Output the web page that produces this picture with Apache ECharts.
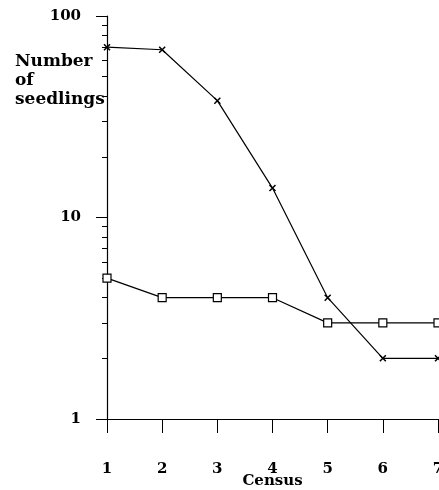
<!DOCTYPE html>
<html>
<head>
<meta charset="utf-8">
<script src="https://cdn.jsdelivr.net/npm/echarts@6/dist/echarts.min.js"></script>
<style>
html,body{margin:0;padding:0;background:#fff;}
#chart{width:439px;height:490px;}
</style>
</head>
<body>
<div id="chart"></div>
<script>
// Data
var census = [1, 2, 3, 4, 5, 6, 7];
var crossSeries = [70, 68, 38, 14, 4, 2, 2];
var squareSeries = [5, 4, 4, 4, 3, 3, 3];
var yMajorTicks = [1, 10, 100];
var yMinorTicks = [2, 3, 4, 5, 6, 7, 8, 9, 20, 30, 40, 50, 60, 70, 80, 90];
var xTickLabels = ['1', '2', '3', '4', '5', '6', '7'];

var FONT = 'DejaVu Serif';
var crossPath = 'path://M0,0L10,10M10,0L0,10';

function pairs(ys) {
  return census.map(function (c, i) { return [c, ys[i]]; });
}

var chart = echarts.init(document.getElementById('chart'), null, {renderer: 'canvas'});
chart.setOption({
  animation: false,
  backgroundColor: '#fff',
  title: {
    text: 'Number\nof\nseedlings',
    left: 15,
    top: 52,
    padding: 0,
    textStyle: {
      fontFamily: FONT, fontWeight: 'bold', fontSize: 17, color: '#000', lineHeight: 19
    }
  },
  grid: {left: 107, right: 1, top: 16, bottom: 71, containLabel: false, outerBoundsMode: 'none'},
  xAxis: {
    type: 'value',
    min: 1, max: 7, interval: 1,
    name: 'Census',
    nameLocation: 'middle',
    nameGap: 55,
    nameMoveOverlap: false,
    nameTextStyle: {fontFamily: FONT, fontWeight: 'bold', fontSize: 15, color: '#000'},
    axisLine: {show: true, lineStyle: {color: '#000', width: 1.2}},
    axisTick: {show: true, length: 14, inside: false, lineStyle: {color: '#000', width: 1}},
    axisLabel: {
      margin: 43, fontFamily: FONT, fontWeight: 'bold', fontSize: 15, color: '#000',
      formatter: function (v) { return xTickLabels[census.indexOf(v)] || ''; }
    },
    splitLine: {show: false}
  },
  yAxis: [{
    type: 'log',
    logBase: 10,
    min: 1, max: 100,
    position: 'left',
    axisLine: {show: true, lineStyle: {color: '#000', width: 1.2}},
    axisTick: {show: true, length: 11, inside: false, customValues: yMajorTicks, lineStyle: {color: '#000', width: 1}},
    axisLabel: {
      margin: 26, fontFamily: FONT, fontWeight: 'bold', fontSize: 15, color: '#000',
      customValues: yMajorTicks
    },
    splitLine: {show: false}
  }, {
    type: 'log',
    logBase: 10,
    min: 1, max: 100,
    position: 'left',
    offset: 0,
    axisLine: {show: false},
    axisTick: {show: true, length: 5, inside: false, customValues: yMinorTicks, lineStyle: {color: '#000', width: 1}},
    axisLabel: {show: false},
    splitLine: {show: false}
  }],
  series: [{
    type: 'line',
    data: pairs(crossSeries),
    symbol: crossPath,
    symbolSize: 6,
    lineStyle: {color: '#000', width: 1.2},
    itemStyle: {color: 'rgba(0,0,0,0)', borderColor: '#000', borderWidth: 1.5},
    z: 3
  }, {
    type: 'line',
    data: pairs(squareSeries),
    symbol: 'rect',
    symbolSize: 8,
    showAllSymbol: true,
    lineStyle: {color: '#000', width: 1.2},
    itemStyle: {color: '#fff', borderColor: '#000', borderWidth: 1.2},
    z: 4
  }]
});
</script>
</body>
</html>
